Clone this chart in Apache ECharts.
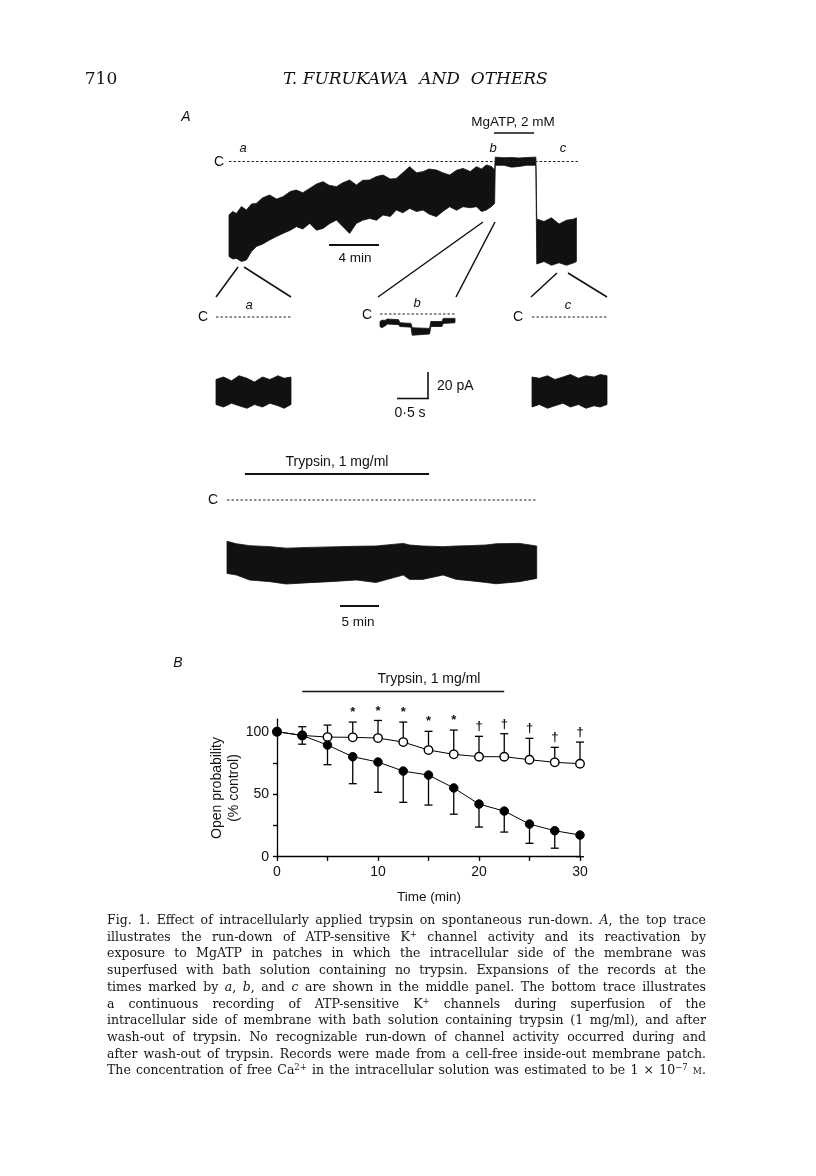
<!DOCTYPE html>
<html><head><meta charset="utf-8">
<script src="https://cdn.jsdelivr.net/npm/echarts@6.0.0/dist/echarts.min.js"></script>
<style>
html,body{margin:0;padding:0;background:#fff;}
#chart{position:absolute;left:0;top:0;width:816px;height:1176px;}
#caption{position:absolute;left:107px;top:912px;width:599px;font-family:"DejaVu Serif",serif;font-size:12.6px;line-height:16.7px;color:#151515;transform-origin:0 0;}
#caption div{text-align:justify;text-align-last:justify;white-space:nowrap;}
#caption sup{font-size:8.5px;line-height:0;vertical-align:4px;}
</style></head><body>
<div id="chart"></div>
<div id="caption">
<div>Fig. 1. Effect of intracellularly applied trypsin on spontaneous run-down. <i>A</i>, the top trace</div>
<div>illustrates the run-down of ATP-sensitive K<sup>+</sup> channel activity and its reactivation by</div>
<div>exposure to MgATP in patches in which the intracellular side of the membrane was</div>
<div>superfused with bath solution containing no trypsin. Expansions of the records at the</div>
<div>times marked by <i>a</i>, <i>b</i>, and <i>c</i> are shown in the middle panel. The bottom trace illustrates</div>
<div>a continuous recording of ATP-sensitive K<sup>+</sup> channels during superfusion of the</div>
<div>intracellular side of membrane with bath solution containing trypsin (1 mg/ml), and after</div>
<div>wash-out of trypsin. No recognizable run-down of channel activity occurred during and</div>
<div>after wash-out of trypsin. Records were made from a cell-free inside-out membrane patch.</div>
<div>The concentration of free Ca<sup>2+</sup> in the intracellular solution was estimated to be 1 × 10<sup>−7</sup> <span style="font-variant:small-caps">m</span>.</div>
</div>
<script>
// ===== Panel B data =====
const timeMin = [0, 2.5, 5, 7.5, 10, 12.5, 15, 17.5, 20, 22.5, 25, 27.5, 30];
const controlMean = [100, 97, 89.3, 80, 75.7, 68.5, 65.3, 55, 42.1, 36.5, 26.1, 20.8, 17.3];
const controlSD = [0, 7, 15.7, 21.6, 24.2, 25, 24, 21, 18.4, 16.8, 15.4, 14, 17.3];
const trypsinMean = [100, 97, 95.7, 95.5, 94.9, 91.7, 85.3, 81.9, 80, 80, 77.6, 75.5, 74.4];
const trypsinSD = [0, 7, 9.6, 12.2, 14.1, 16, 15, 19.4, 16.3, 18.4, 17.1, 12, 17.3];
const sigMarks = ['', '', '', '*', '*', '*', '*', '*', '†', '†', '†', '†', '†'];
const xTickLabels = [0, 10, 20, 30];
const yTickLabels = [0, 50, 100];
const yTickValues = [0, 25, 50, 75, 100];
const trypsinPeriodB = [2.5, 22.5];

// ===== Panel A data (min / s, pA) =====
const topT = [0,0.3,0.59,1.0,1.39,1.8,2.19,2.7,3.25,3.8,4.32,4.9,5.39,5.9,6.45,7.0,7.52,8.0,8.59,9.1,9.65,10.19,10.7,11.25,11.8,12.32,12.9,13.39,13.9,14.45,15.0,15.52,16.0,16.59,17.1,17.65,18.2,18.72,19.3,19.79,20.2,20.59,21.0,21.25,21.3,22.0,22.6,23.2,23.8,24.55,24.62,25.2,25.8,26.4,27.0,27.6,27.79];
const topUp = [-42.8,-40,-41.5,-36,-38.8,-34,-33.5,-29,-26.8,-30,-28.1,-24,-22.8,-25,-21.5,-18,-16.1,-19,-20.1,-17,-14.8,-18.8,-15,-14.8,-12,-10.8,-14,-13.5,-9,-4.1,-9,-8.1,-6,-6.8,-9,-10.8,-7,-5.5,-8,-4.1,-6,-2.8,-4,-6.8,3.5,3,3.2,2.8,3.2,3.5,-46,-48,-45,-50,-47,-46,-45];
const topLo = [-76,-78,-77.5,-80,-78.8,-72,-68,-66,-62.8,-60,-57.5,-55,-52.1,-54,-49.5,-55,-53.5,-50,-46.8,-52,-57.5,-49.5,-47,-45.5,-47,-42.8,-44,-38.8,-41,-37.5,-40,-38.8,-42,-44.1,-40,-36.1,-39,-36.1,-37,-36.1,-40,-38.8,-36,-33.5,-3,-3,-4.5,-4,-3,-3,-82,-80,-83,-81,-83,-81,-80];
const topMax = 27.92;
const mgatpPeriod = [21.2, 24.4];

const expT = [0, 0.12, 0.25, 0.37, 0.5, 0.62, 0.75, 0.87, 1.0, 1.1, 1.21];
const expAUp = [-50, -48, -51, -47, -49, -52, -48, -50, -47, -49, -48];
const expALo = [-70, -72, -69, -71, -73, -70, -72, -69, -71, -73, -70];
const expCUp = [-48, -49, -47, -50, -48, -46, -49, -47, -48, -46, -47];
const expCLo = [-72, -70, -73, -71, -69, -72, -70, -73, -71, -72, -70];
const expBT = [0, 0.03, 0.1, 0.11, 0.3, 0.32, 0.5, 0.52, 0.8, 0.82, 1.0, 1.02, 1.21];
const expBUp = [-6, -5, -5, -4, -4.5, -7, -7.5, -11, -11.5, -6, -6, -3.5, -3.5];
const expBLo = [-10, -11, -9, -8, -8.5, -10, -10.5, -17, -16, -10, -10, -7.5, -7];
const expMax = 1.21;

const botT = [0,1.2,2.9,5.5,7.6,10.6,13.2,16.6,19.1,22.6,23.4,25.1,27.7,29.4,31.1,33.2,34.5,37.5,39.7];
const botUp = [-33,-35,-36.5,-37.3,-38.5,-37.9,-37.5,-37,-36.8,-34.7,-36,-36.8,-37.3,-36.8,-36.5,-36,-35,-34.7,-36.8];
const botLo = [-58.7,-60,-64,-65.3,-67.2,-66.1,-65.3,-64,-66,-60,-63.5,-63.5,-60,-63.5,-64.5,-66,-67,-65.3,-62.7];
const botMax = 39.74;
const trypsinPeriodA = [2.3, 25.9];

const SANS = '"Liberation Sans", Arial, Helvetica, sans-serif';
const INK = '#111';

function bandSeries(gi, t, up, lo) {
  return {
    type: 'custom', xAxisIndex: gi, yAxisIndex: gi, silent: true, clip: false,
    data: [[0, 0]],
    renderItem: function (params, api) {
      const pts = [];
      for (let i = 0; i < t.length; i++) pts.push(api.coord([t[i], up[i]]));
      for (let i = t.length - 1; i >= 0; i--) pts.push(api.coord([t[i], lo[i]]));
      return { type: 'polygon', shape: { points: pts }, style: { fill: INK, stroke: INK, lineWidth: 0.8 } };
    }
  };
}
function closedLine(gi, xmax) {
  return {
    type: 'line', xAxisIndex: gi, yAxisIndex: gi, silent: true, symbol: 'none',
    data: [[0, 0], [xmax, 0]],
    lineStyle: { color: '#222', width: 1, type: [2.5, 2] }
  };
}
function errSeries(mean, sd, dir) {
  return {
    type: 'custom', xAxisIndex: 5, yAxisIndex: 5, silent: true, z: 2,
    data: timeMin.map((t, i) => [t, mean[i], mean[i] + dir * sd[i], sd[i]]),
    renderItem: function (params, api) {
      if (api.value(3) <= 0) return null;
      const p1 = api.coord([api.value(0), api.value(1)]);
      const p2 = api.coord([api.value(0), api.value(2)]);
      const w = 4;
      return { type: 'group', children: [
        { type: 'line', shape: { x1: p1[0], y1: p1[1], x2: p2[0], y2: p2[1] }, style: { stroke: '#000', lineWidth: 1.3 } },
        { type: 'line', shape: { x1: p2[0] - w, y1: p2[1], x2: p2[0] + w, y2: p2[1] }, style: { stroke: '#000', lineWidth: 1.3 } }
      ] };
    }
  };
}
function txt(x, y, s, size, opts) {
  opts = opts || {};
  return { type: 'text', x: x, y: y, rotation: opts.rot || 0, silent: true, z: 10,
    style: { text: s, font: (opts.style || 'normal') + ' ' + (opts.weight || 'normal') + ' ' + size + 'px ' + (opts.family || SANS),
      fill: INK, align: opts.align || 'center', verticalAlign: 'middle', lineHeight: opts.lh || size * 1.2 } };
}
function seg(x1, y1, x2, y2, w) {
  return { type: 'line', silent: true, z: 10, shape: { x1, y1, x2, y2 }, style: { stroke: INK, lineWidth: w || 1.4 } };
}

const hiddenX = (gi, max) => ({ gridIndex: gi, type: 'value', min: 0, max: max, show: false });
const hiddenY = (gi, min, max) => ({ gridIndex: gi, type: 'value', min: min, max: max, show: false });

const axisLineB = { show: true, onZero: false, lineStyle: { color: '#000', width: 1.3 } };
const labelFont = { fontFamily: SANS, fontSize: 14, color: INK };

const chart = echarts.init(document.getElementById('chart'), null, { renderer: 'canvas' });
const option = {
  animation: false,
  backgroundColor: '#fff',
  grid: [
    { left: 229, top: 149, width: 349, height: 125 },
    { left: 216, top: 304.5, width: 75, height: 112.5 },
    { left: 380, top: 301.5, width: 75, height: 112.5 },
    { left: 532, top: 304.5, width: 75, height: 112.5 },
    { left: 227, top: 487.5, width: 310, height: 125 },
    { left: 277, top: 719.2, width: 303, height: 137.5 }
  ],
  xAxis: [
    hiddenX(0, topMax), hiddenX(1, expMax), hiddenX(2, expMax), hiddenX(3, expMax), hiddenX(4, botMax),
    { gridIndex: 5, type: 'value', min: 0, max: 30, interval: 5, axisLine: axisLineB,
      axisTick: { show: true, length: 4, lineStyle: { color: '#000', width: 1.2 } },
      splitLine: { show: false },
      axisLabel: Object.assign({ margin: 8, customValues: xTickLabels }, labelFont) },
    { gridIndex: 5, type: 'value', min: 0, max: 30, interval: 5, axisLine: { show: false },
      axisTick: { show: true, inside: true, length: 4, lineStyle: { color: '#000', width: 1.2 } },
      splitLine: { show: false }, axisLabel: { show: false } }
  ],
  yAxis: [
    hiddenY(0, -90, 10), hiddenY(1, -80, 10), hiddenY(2, -80, 10), hiddenY(3, -80, 10), hiddenY(4, -90, 10),
    { gridIndex: 5, type: 'value', min: 0, max: 110, axisLine: axisLineB,
      axisTick: { show: true, length: 4, customValues: yTickValues, lineStyle: { color: '#000', width: 1.2 } },
      splitLine: { show: false },
      axisLabel: Object.assign({ margin: 8, customValues: yTickLabels }, labelFont) },
    { gridIndex: 5, type: 'value', min: 0, max: 110, axisLine: { show: false },
      axisTick: { show: true, inside: true, length: 4, customValues: yTickValues, lineStyle: { color: '#000', width: 1.2 } },
      splitLine: { show: false }, axisLabel: { show: false } }
  ],
  series: [
    closedLine(0, topMax), bandSeries(0, topT, topUp, topLo),
    closedLine(1, expMax), bandSeries(1, expT, expAUp, expALo),
    closedLine(2, expMax), bandSeries(2, expBT, expBUp, expBLo),
    closedLine(3, expMax), bandSeries(3, expT, expCUp, expCLo),
    closedLine(4, botMax - 0.15), bandSeries(4, botT, botUp, botLo),
    errSeries(trypsinMean, trypsinSD, 1),
    errSeries(controlMean, controlSD, -1),
    { type: 'line', xAxisIndex: 5, yAxisIndex: 5, z: 3, silent: true,
      data: timeMin.map((t, i) => [t, trypsinMean[i]]), showAllSymbol: true,
      symbol: 'circle', symbolSize: 8.5,
      itemStyle: { color: '#fff', borderColor: '#000', borderWidth: 1.4 },
      lineStyle: { color: '#000', width: 1 } },
    { type: 'line', xAxisIndex: 5, yAxisIndex: 5, z: 4, silent: true,
      data: timeMin.map((t, i) => [t, controlMean[i]]), showAllSymbol: true,
      symbol: 'circle', symbolSize: 8.5,
      itemStyle: { color: '#000', borderColor: '#000', borderWidth: 1 },
      lineStyle: { color: '#000', width: 1 } },
    { type: 'custom', xAxisIndex: 5, yAxisIndex: 5, silent: true, clip: false, z: 5,
      data: timeMin.map((t, i) => [t, trypsinMean[i] + trypsinSD[i], i]),
      renderItem: function (params, api) {
        const s = sigMarks[api.value(2)];
        if (!s) return null;
        const p = api.coord([api.value(0), api.value(1)]);
        return { type: 'text', x: p[0], y: p[1] - 3,
          style: { text: s, font: 'bold 13px ' + SANS, fill: INK, align: 'center', verticalAlign: 'bottom' } };
      } }
  ],
  graphic: []
};
chart.setOption(option);

// Bars derived from data through the axes
const gEls = [];
const pA1 = chart.convertToPixel({ gridIndex: 0 }, [mgatpPeriod[0], 0]);
const pA2 = chart.convertToPixel({ gridIndex: 0 }, [mgatpPeriod[1], 0]);
gEls.push(seg(pA1[0], 133, pA2[0], 133, 1.6));
const pT1 = chart.convertToPixel({ gridIndex: 4 }, [trypsinPeriodA[0], 0]);
const pT2 = chart.convertToPixel({ gridIndex: 4 }, [trypsinPeriodA[1], 0]);
gEls.push(seg(pT1[0], 474, pT2[0], 474, 1.8));
const pB1 = chart.convertToPixel({ gridIndex: 5 }, [trypsinPeriodB[0], 0]);
const pB2 = chart.convertToPixel({ gridIndex: 5 }, [trypsinPeriodB[1], 0]);
gEls.push(seg(pB1[0], 691.5, pB2[0], 691.5, 1.6));

// Header
gEls.push(txt(101, 80, '710', 17, { family: '"DejaVu Serif", serif' }));
gEls.push(txt(283, 80, 'T. FURUKAWA  AND  OTHERS', 17, { family: '"DejaVu Serif", serif', style: 'italic', align: 'left' }));
// Panel A texts
gEls.push(txt(186, 117, 'A', 14, { style: 'italic' }));
gEls.push(txt(513, 122, 'MgATP, 2 mM', 13.5));
gEls.push(txt(243, 148, 'a', 13, { style: 'italic' }));
gEls.push(txt(493, 148, 'b', 13, { style: 'italic' }));
gEls.push(txt(563, 148, 'c', 13, { style: 'italic' }));
gEls.push(txt(219, 162, 'C', 14));
gEls.push(seg(329, 245, 379, 245, 2));
gEls.push(txt(355, 258, '4 min', 13.5));
// expansion connector lines
gEls.push(seg(238, 267, 216, 297, 1.5));
gEls.push(seg(244, 267, 291, 297, 1.5));
gEls.push(seg(483, 222, 378, 297, 1.5));
gEls.push(seg(495, 222, 456, 297, 1.5));
gEls.push(seg(557, 273, 531, 297, 1.5));
gEls.push(seg(568, 273, 607, 297, 1.5));
gEls.push(txt(249, 305, 'a', 13, { style: 'italic' }));
gEls.push(txt(417, 303, 'b', 13, { style: 'italic' }));
gEls.push(txt(568, 305, 'c', 13, { style: 'italic' }));
gEls.push(txt(203, 317, 'C', 14));
gEls.push(txt(367, 315, 'C', 14));
gEls.push(txt(518, 317, 'C', 14));
// 20 pA / 0.5 s scale bar
gEls.push(seg(428, 372, 428, 399, 1.6));
gEls.push(seg(397, 398.5, 428.8, 398.5, 1.6));
gEls.push(txt(437, 386, '20 pA', 14, { align: 'left' }));
gEls.push(txt(410, 413, '0·5 s', 14));
// bottom trace texts
gEls.push(txt(337, 462, 'Trypsin, 1 mg/ml', 14));
gEls.push(txt(213, 500, 'C', 14));
gEls.push(seg(340, 606, 379, 606, 2));
gEls.push(txt(358, 622, '5 min', 13.5));
// Panel B texts
gEls.push(txt(178, 663, 'B', 14, { style: 'italic' }));
gEls.push(txt(429, 679, 'Trypsin, 1 mg/ml', 14));
gEls.push(txt(226, 788, 'Open probability\n(% control)', 14, { rot: Math.PI / 2, lh: 17 }));
gEls.push(txt(429, 897, 'Time (min)', 13.5));
chart.setOption({ graphic: gEls });

// caption: keep glyph size, compress horizontally so every justified line fits 599px
(function () {
  const cap = document.getElementById('caption');
  const lines = cap.querySelectorAll('div');
  let maxW = 0;
  lines.forEach(d => {
    const s = document.createElement('span');
    s.style.whiteSpace = 'nowrap';
    s.innerHTML = d.innerHTML;
    d.innerHTML = ''; d.appendChild(s);
    maxW = Math.max(maxW, s.getBoundingClientRect().width);
    d.innerHTML = s.innerHTML;
  });
  const target = 599;
  if (maxW > target - 4) {
    const k = (target - 4) / maxW;
    cap.style.width = (target / k).toFixed(1) + 'px';
    cap.style.transform = 'scaleX(' + k.toFixed(4) + ')';
  }
})();
</script>
</body></html>
